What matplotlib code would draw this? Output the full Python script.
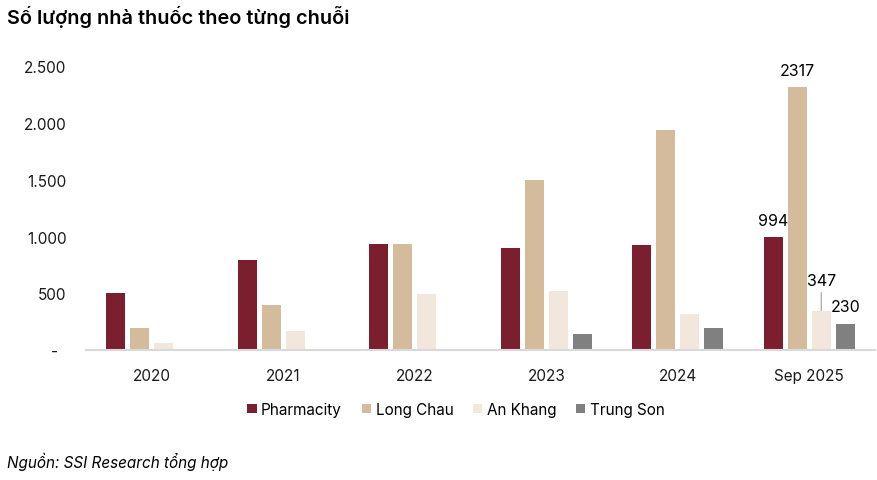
import numpy as np
import matplotlib
matplotlib.use('Agg')
import matplotlib.pyplot as plt
from matplotlib.ticker import FuncFormatter

plt.rcParams['font.family'] = ['Inter', 'DejaVu Sans']

years = ['2020', '2021', '2022', '2023', '2024', 'Sep 2025']
pharmacity = [505, 795, 935, 900, 930, 994]
long_chau = [190, 395, 935, 1500, 1940, 2317]
an_khang = [60, 165, 495, 520, 320, 347]
trung_son = [0, 0, 0, 140, 195, 230]

series = [('Pharmacity', pharmacity, '#7b1f2e'),
          ('Long Chau', long_chau, '#d4bb9b'),
          ('An Khang', an_khang, '#f2e7dc'),
          ('Trung Son', trung_son, '#808080')]

fs = 11
slot = 0.1825
width = 0.145

fig = plt.figure(figsize=(8.78, 4.81), dpi=100)
ax = fig.add_axes([0.098, 0.2703, 0.8986, 0.5894])

x = np.arange(len(years))
for i, (name, vals, col) in enumerate(series):
    ax.bar(x + (i - 1.5) * slot, vals, width, color=col, label=name, zorder=2)

ax.set_xlim(-0.5, len(years) - 0.5)
ax.set_ylim(0, 2500)
ax.set_yticks(np.arange(0, 2501, 500))

def fmt(v, pos):
    if v == 0:
        return '-  '
    return '{:,.0f}'.format(v).replace(',', '.')

ax.yaxis.set_major_formatter(FuncFormatter(fmt))
ax.set_xticks(x)
ax.set_xticklabels(years)
ax.tick_params(axis='both', length=0, labelsize=fs, colors='#1a1a1a')
ax.tick_params(axis='y', pad=14)
ax.tick_params(axis='x', pad=13)

for s in ['top', 'right', 'left']:
    ax.spines[s].set_visible(False)
ax.spines['bottom'].set_color('#d9d9d9')
ax.spines['bottom'].set_linewidth(1.5)

# labels for last group
last = len(years) - 1
lfs = 11.5
ax.annotate(str(pharmacity[last]), (last - 1.5 * slot, pharmacity[last]),
            xytext=(0, 7), textcoords='offset points', ha='center', va='bottom', fontsize=lfs)
ax.annotate(str(long_chau[last]), (last - 0.5 * slot, long_chau[last]),
            xytext=(0, 7), textcoords='offset points', ha='center', va='bottom', fontsize=lfs)
ax.annotate(str(an_khang[last]), (last + 0.5 * slot, an_khang[last]),
            xytext=(0, 16), textcoords='offset points', ha='center', va='bottom', fontsize=lfs,
            arrowprops=dict(arrowstyle='-', color='#a0a0a0', lw=0.8, shrinkA=1, shrinkB=0))
ax.annotate(str(trung_son[last]), (last + 1.5 * slot, trung_son[last]),
            xytext=(0, 7), textcoords='offset points', ha='center', va='bottom', fontsize=lfs)

leg = ax.legend(loc='upper center', bbox_to_anchor=(0.469, -0.135), ncol=4, frameon=False,
                fontsize=fs, handlelength=0.6, handleheight=0.6, handletextpad=0.3,
                columnspacing=1.3)

fig.text(0.008, 0.965, 'Số lượng nhà thuốc theo từng chuỗi', fontsize=14.3,
         fontweight='semibold', va='center', ha='left')
fig.text(0.008, 0.04, 'Nguồn: SSI Research tổng hợp', fontsize=11, style='italic',
         va='center', ha='left')

fig.savefig('out.png', dpi=100)
